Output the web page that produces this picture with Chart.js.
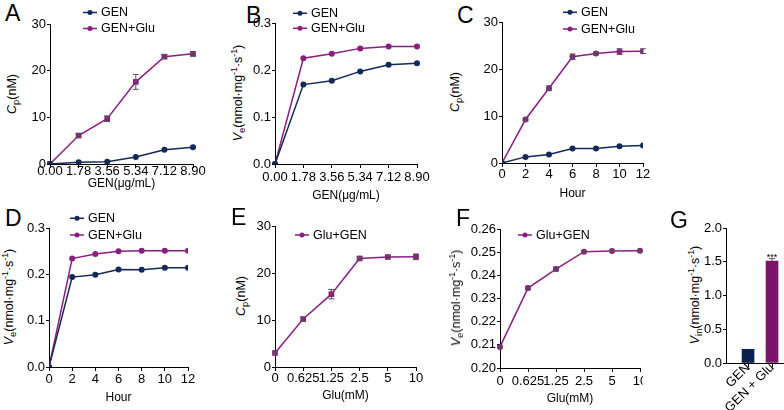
<!DOCTYPE html>
<html>
<head>
<meta charset="utf-8">
<script src="https://cdn.jsdelivr.net/npm/chart.js@4.4.1/dist/chart.umd.min.js"></script>
<style>
  body { margin: 0; background: #fff; overflow: hidden; }
  #fig { position: relative; width: 784px; height: 410px; overflow: hidden; font-family: "Liberation Sans", Arial, sans-serif; color: #000; }
  #clipF { position: absolute; left: 0; top: 0; width: 643px; height: 410px; overflow: hidden; }
  .letter { position: absolute; font-size: 23px; line-height: 23px; }
  .ytitle { position: absolute; font-size: 12.5px; line-height: 12px; white-space: nowrap; transform: translate(-50%, -50%) rotate(-90deg); }
  .ytitle sub { font-size: 0.75em; vertical-align: -0.3em; line-height: 0; }
  .ytitle sup { font-size: 0.7em; vertical-align: 0.6em; line-height: 0; }
</style>
</head>
<body>
<div id="fig">
  <div id="clipF"></div>

  <div class="letter" style="left:5px;top:2px">A</div>
  <div class="letter" style="left:246px;top:4px">B</div>
  <div class="letter" style="left:457px;top:4px">C</div>
  <div class="letter" style="left:5px;top:207px">D</div>
  <div class="letter" style="left:231px;top:206px">E</div>
  <div class="letter" style="left:456px;top:207px">F</div>
  <div class="letter" style="left:670px;top:209px">G</div>

  <div class="ytitle" style="left:12px;top:94px"><i>C</i><sub>p</sub>(nM)</div>
  <div class="ytitle" style="left:238px;top:93px"><i>V</i><sub>e</sub>(nmol·mg<sup>-1</sup>·s<sup>-1</sup>)</div>
  <div class="ytitle" style="left:455px;top:92px"><i>C</i><sub>p</sub>(nM)</div>
  <div class="ytitle" style="left:9px;top:297px"><i>V</i><sub>e</sub>(nmol·mg<sup>-1</sup>·s<sup>-1</sup>)</div>
  <div class="ytitle" style="left:241px;top:296px"><i>C</i><sub>p</sub>(nM)</div>
  <div class="ytitle" style="left:456px;top:298px"><i>V</i><sub>e</sub>(nmol·mg<sup>-1</sup>·s<sup>-1</sup>)</div>
  <div class="ytitle" style="left:695px;top:295px"><i>V</i><sub>in</sub>(nmol·mg<sup>-1</sup>·s<sup>-1</sup>)</div>
</div>

<script>
// categories / x values
const genDoses = ['0.00', '1.78', '3.56', '5.34', '7.12', '8.90'];
const hours = [0, 2, 4, 6, 8, 10, 12];
const gluDoses = ['0', '0.625', '1.25', '2.5', '5', '10'];
const barGroups = ['GEN', 'GEN + Glu'];

// A: Cp vs GEN dose
const cpDoseGen = [0, 0.36, 0.5, 1.5, 3.06, 3.6];
const cpDoseGenGlu = [0, 6.1, 9.7, 17.6, 23.0, 23.6];
const cpDoseGenGluErr = [0, 0.4, 0.6, 1.6, 0.4, 0.5];
// B: Ve vs GEN dose
const veDoseGen = [0, 0.169, 0.177, 0.197, 0.211, 0.2146];
const veDoseGenGlu = [0, 0.225, 0.2345, 0.246, 0.250, 0.250];
// C: Cp vs time
const cpTimeGen = [0, 1.3, 1.8, 3.07, 3.07, 3.56, 3.7];
const cpTimeGenGlu = [0, 9.25, 15.9, 22.6, 23.3, 23.7, 23.8];
const cpTimeGenGluErr = [0, 0.3, 0.5, 0.6, 0.3, 0.6, 0.5];
// D: Ve vs time
const veTimeGen = [0, 0.194, 0.199, 0.2104, 0.210, 0.214, 0.214];
const veTimeGenGlu = [0, 0.234, 0.2437, 0.250, 0.251, 0.251, 0.251];
// E, F: Glu dose
const cpGlu = [2.99, 10.2, 15.5, 23.1, 23.4, 23.45];
const cpGluErr = [0.2, 0.4, 1.0, 0.3, 0.3, 0.6];
const veGlu = [0.2091, 0.2345, 0.2427, 0.2502, 0.2505, 0.2506];
const veGluErr = [0.0004, 0.0008, 0.0009, 0.0003, 0.0003, 0.0004];
// G: Vin bars
const vinBars = [0.203, 1.509];
const vinErr = [0, 0.04];
const vinStars = ['', '***'];

const NAVY = '#14285a';
const PURPLE = '#8a1f80';
const BAR_COLORS = ['#0d1f4e', '#7a1467'];

const YW = 40, PT = 26, PR = 16;
const TICK_FONT = { family: "'Liberation Sans Narrow', 'Liberation Sans', Arial, sans-serif", size: 13 };
const TITLE_FONT = { family: "'Liberation Sans', Arial, sans-serif", size: 12 };

const errorBars = {
  id: 'errorBars',
  afterDatasetsDraw(chart) {
    const ctx = chart.ctx, ys = chart.scales.y;
    chart.data.datasets.forEach((ds, i) => {
      if (!ds.errors) return;
      chart.getDatasetMeta(i).data.forEach((el, j) => {
        const d = ds.data[j];
        const v = typeof d === 'object' ? d.y : d;
        const e = ds.errors[j];
        ctx.save();
        if (e) {
          const top = ys.getPixelForValue(v + e);
          const bot = ds.upOnly ? ys.getPixelForValue(v) : ys.getPixelForValue(v - e);
          ctx.strokeStyle = '#555';
          ctx.lineWidth = 1;
          ctx.beginPath();
          ctx.moveTo(el.x, top); ctx.lineTo(el.x, bot);
          ctx.moveTo(el.x - 3, top); ctx.lineTo(el.x + 3, top);
          if (!ds.upOnly) { ctx.moveTo(el.x - 3, bot); ctx.lineTo(el.x + 3, bot); }
          ctx.stroke();
        }
        if (ds.stars && ds.stars[j]) {
          ctx.fillStyle = '#000';
          ctx.font = "9px 'Liberation Sans', Arial, sans-serif";
          ctx.textAlign = 'center';
          ctx.textBaseline = 'alphabetic';
          ctx.fillText(ds.stars[j], el.x, ys.getPixelForValue(v + e) + 2);
        }
        ctx.restore();
      });
    });
  }
};

const lineLegend = {
  id: 'lineLegend',
  afterDraw(chart, args, opts) {
    if (opts.x === undefined) return;
    const ctx = chart.ctx;
    ctx.save();
    ctx.font = "12.5px 'Liberation Sans', Arial, sans-serif";
    ctx.textBaseline = 'middle';
    chart.data.datasets.forEach((ds, i) => {
      const y = opts.ys[i];
      ctx.strokeStyle = ds.borderColor;
      ctx.fillStyle = ds.borderColor;
      ctx.lineWidth = 1.5;
      ctx.beginPath();
      ctx.moveTo(opts.x, y); ctx.lineTo(opts.x + 14, y);
      ctx.stroke();
      Chart.helpers.drawPoint(ctx, { pointStyle: 'circle', radius: 2.5, borderWidth: 0 }, opts.x + 7, y);
      ctx.fillStyle = '#000';
      ctx.fillText(ds.label, opts.x + 18, y + 0.5);
    });
    ctx.restore();
  }
};

function series(label, data, color, style, errors) {
  return {
    label, data, errors,
    borderColor: color, backgroundColor: color,
    borderWidth: 1.5, pointStyle: style,
    pointRadius: style === 'rect' ? 4 : 3,
    pointBorderWidth: 0
  };
}

function xy(xs, ys) { return xs.map((x, i) => ({ x, y: ys[i] })); }

function yScale(min, max, step, digits) {
  return {
    min, max,
    ticks: { stepSize: step, padding: 1, color: '#000', font: TICK_FONT, callback: v => Number(v).toFixed(digits) },
    grid: { drawOnChartArea: false, tickLength: 3, color: '#000' },
    border: { color: '#000', width: 1 },
    afterFit: s => { s.width = YW; }
  };
}

function xScale(extra, xh, pad, title) {
  return Object.assign({
    offset: false,
    ticks: { padding: pad, color: '#000', font: TICK_FONT, autoSkip: false, maxRotation: 0 },
    grid: { drawOnChartArea: false, tickLength: 4, color: '#000', offset: false },
    border: { color: '#000', width: 1 },
    title: { display: !!title, text: title, color: '#000', font: TITLE_FONT, padding: 0 },
    afterFit: s => { s.height = xh; }
  }, extra);
}

function makePanel(p) {
  const [l, t, r, b] = p.area;
  const left = l - YW, top = t - PT;
  const w = r - l + YW + PR, h = b - t + PT + p.xh;
  const cv = document.createElement('canvas');
  cv.width = w; cv.height = h;
  cv.style.cssText = `position:absolute;left:${left}px;top:${top}px;width:${w}px;height:${h}px`;
  document.getElementById(p.parent || 'fig').appendChild(cv);
  const legendOpts = p.legend ? { x: p.legend.x - left, ys: p.legend.ys.map(y => y - top) } : {};
  const data = { datasets: p.datasets };
  if (p.labels) data.labels = p.labels;
  new Chart(cv, {
    type: p.type || 'line',
    data,
    options: {
      responsive: false,
      animation: false,
      layout: { padding: { top: PT, right: PR, left: 0, bottom: 0 } },
      plugins: { legend: { display: false }, tooltip: { enabled: false }, lineLegend: legendOpts },
      scales: { x: p.x, y: p.y }
    },
    plugins: [errorBars, lineLegend]
  });
}

// A
makePanel({
  area: [50, 24, 193, 164], xh: 27, labels: genDoses,
  datasets: [
    series('GEN', cpDoseGen, NAVY, 'circle'),
    series('GEN+Glu', cpDoseGenGlu, PURPLE, 'rect', cpDoseGenGluErr)
  ],
  x: xScale({ type: 'category' }, 27, -4, 'GEN(μg/mL)'),
  y: yScale(0, 30, 10, 0),
  legend: { x: 83, ys: [12.5, 28.5] }
});

// B
makePanel({
  area: [275, 23, 417, 164], xh: 39, labels: genDoses,
  datasets: [
    series('GEN', veDoseGen, NAVY, 'circle'),
    series('GEN+Glu', veDoseGenGlu, PURPLE, 'circle')
  ],
  x: xScale({ type: 'category' }, 39, 2, 'GEN(μg/mL)'),
  y: yScale(0, 0.3, 0.1, 1),
  legend: { x: 293, ys: [13.3, 28.3] }
});

// C
makePanel({
  area: [502, 22, 643, 163], xh: 38,
  datasets: [
    series('GEN', xy(hours, cpTimeGen), NAVY, 'circle'),
    series('GEN+Glu', xy(hours, cpTimeGenGlu), PURPLE, 'circle', cpTimeGenGluErr)
  ],
  x: xScale({ type: 'linear', min: 0, max: 12, ticks: { stepSize: 2, padding: 0, color: '#000', font: TICK_FONT, autoSkip: false, maxRotation: 0 } }, 38, 0, 'Hour'),
  y: yScale(0, 30, 10, 0),
  legend: { x: 563, ys: [12.3, 29] }
});

// D
makePanel({
  area: [49, 228, 188, 367], xh: 38,
  datasets: [
    series('GEN', xy(hours, veTimeGen), NAVY, 'circle'),
    series('GEN+Glu', xy(hours, veTimeGenGlu), PURPLE, 'circle')
  ],
  x: xScale({ type: 'linear', min: 0, max: 12, ticks: { stepSize: 2, padding: 0.5, color: '#000', font: TICK_FONT, autoSkip: false, maxRotation: 0 } }, 38, 0.5, 'Hour'),
  y: yScale(0, 0.3, 0.1, 1),
  legend: { x: 70, ys: [218.3, 235] }
});

// E
makePanel({
  area: [275, 226, 416, 367], xh: 36, labels: gluDoses,
  datasets: [series('Glu+GEN', cpGlu, PURPLE, 'rect', cpGluErr)],
  x: xScale({ type: 'category' }, 36, 0, 'Glu(mM)'),
  y: yScale(0, 30, 10, 0),
  legend: { x: 295, ys: [235] }
});

// F
makePanel({
  area: [500, 229, 640, 368], xh: 38, labels: gluDoses, parent: 'clipF',
  datasets: [series('Glu+GEN', veGlu, PURPLE, 'circle', veGluErr)],
  x: xScale({ type: 'category' }, 38, 2, 'Glu(mM)'),
  y: yScale(0.2, 0.26, 0.01, 2),
  legend: { x: 518, ys: [235] }
});

// G
makePanel({
  area: [726, 228, 784, 363], xh: 70, type: 'bar',
  datasets: [{
    label: 'Vin',
    data: xy(barGroups.map((g, i) => i + 1), vinBars),
    backgroundColor: BAR_COLORS,
    barThickness: 12,
    errors: vinErr, upOnly: true, stars: vinStars
  }],
  x: xScale({
    type: 'linear', min: 0.08, max: 2.5,
    afterBuildTicks: s => { s.ticks = barGroups.map((g, i) => ({ value: i + 1 })); },
    ticks: { padding: -7, color: '#000', font: TICK_FONT, autoSkip: false, minRotation: 45, maxRotation: 45, callback: v => barGroups[v - 1] }
  }, 70, 0, ''),
  y: yScale(0, 2, 0.5, 1)
});
</script>
</body>
</html>
